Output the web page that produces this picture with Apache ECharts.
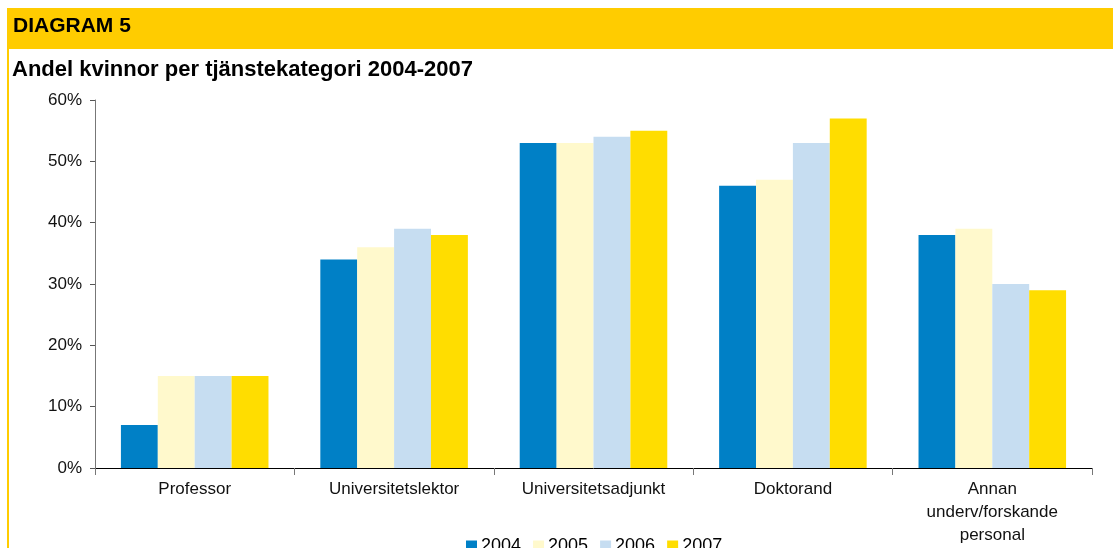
<!DOCTYPE html>
<html>
<head>
<meta charset="utf-8">
<script src="https://cdn.jsdelivr.net/npm/echarts@6/dist/echarts.min.js"></script>
<style>
  html, body { margin: 0; padding: 0; background: #fff; }
  #chart { width: 1113px; height: 548px; }
</style>
</head>
<body>
<div id="chart"></div>
<script>
// data
var categories = ['Professor', 'Universitetslektor', 'Universitetsadjunkt', 'Doktorand', 'Annan\nunderv/forskande\npersonal'];
var years = ['2004', '2005', '2006', '2007'];
var v2004 = [7, 34, 53, 46, 38];
var v2005 = [15, 36, 53, 47, 39];
var v2006 = [15, 39, 54, 53, 30];
var v2007 = [15, 38, 55, 57, 29];
var yTicks = [0, 10, 20, 30, 40, 50, 60];

var colors = ['#0080C6', '#FFF9CC', '#C6DDF1', '#FFDD00'];
var values = [v2004, v2005, v2006, v2007];

var myChart = echarts.init(document.getElementById('chart'));

var series = years.map(function (y, i) {
    return {
        name: y,
        type: 'bar',
        data: values[i],
        barGap: '0%',
        barCategoryGap: '26%',
        itemStyle: { color: colors[i] }
    };
});

var option = {
    animation: false,
    textStyle: { fontFamily: 'Liberation Sans, Arial, sans-serif' },
    graphic: [
        { type: 'rect', shape: { x: 7, y: 8, width: 1106, height: 41 }, style: { fill: '#FFCC00' } },
        { type: 'rect', shape: { x: 7, y: 8, width: 2, height: 540 }, style: { fill: '#FFCC00' } },
        { type: 'text', x: 13, y: 26, style: { text: 'DIAGRAM 5', fill: '#000', verticalAlign: 'middle',
            font: 'bold 21px "Liberation Sans", Arial, sans-serif' } },
        { type: 'text', x: 12, y: 70, style: { text: 'Andel kvinnor per tjänstekategori 2004-2007', fill: '#000', verticalAlign: 'middle',
            font: 'bold 22px "Liberation Sans", Arial, sans-serif' } }
    ],
    grid: { left: 95, right: 21, top: 100, bottom: 80 },
    legend: {
        data: years,
        left: 466,
        top: 537,
        padding: 0,
        itemWidth: 11,
        itemHeight: 11,
        itemGap: 12,
        icon: 'rect',
        textStyle: { fontSize: 18, color: '#000', padding: [0, 0, 0, -1] }
    },
    xAxis: {
        type: 'category',
        data: categories,
        axisLine: { lineStyle: { color: '#000', width: 1 } },
        axisTick: { show: true, length: 7, lineStyle: { color: '#777' } },
        axisLabel: { color: '#111', fontSize: 17, margin: 10, lineHeight: 23, interval: 0 }
    },
    yAxis: {
        type: 'value',
        min: yTicks[0],
        max: yTicks[yTicks.length - 1],
        interval: 10,
        splitLine: { show: false },
        axisLine: { show: true, lineStyle: { color: '#777' } },
        axisTick: { show: true, length: 5, lineStyle: { color: '#555' } },
        axisLabel: { color: '#111', fontSize: 17, margin: 13, formatter: '{value}%' }
    },
    series: series
};

myChart.setOption(option);
</script>
</body>
</html>
